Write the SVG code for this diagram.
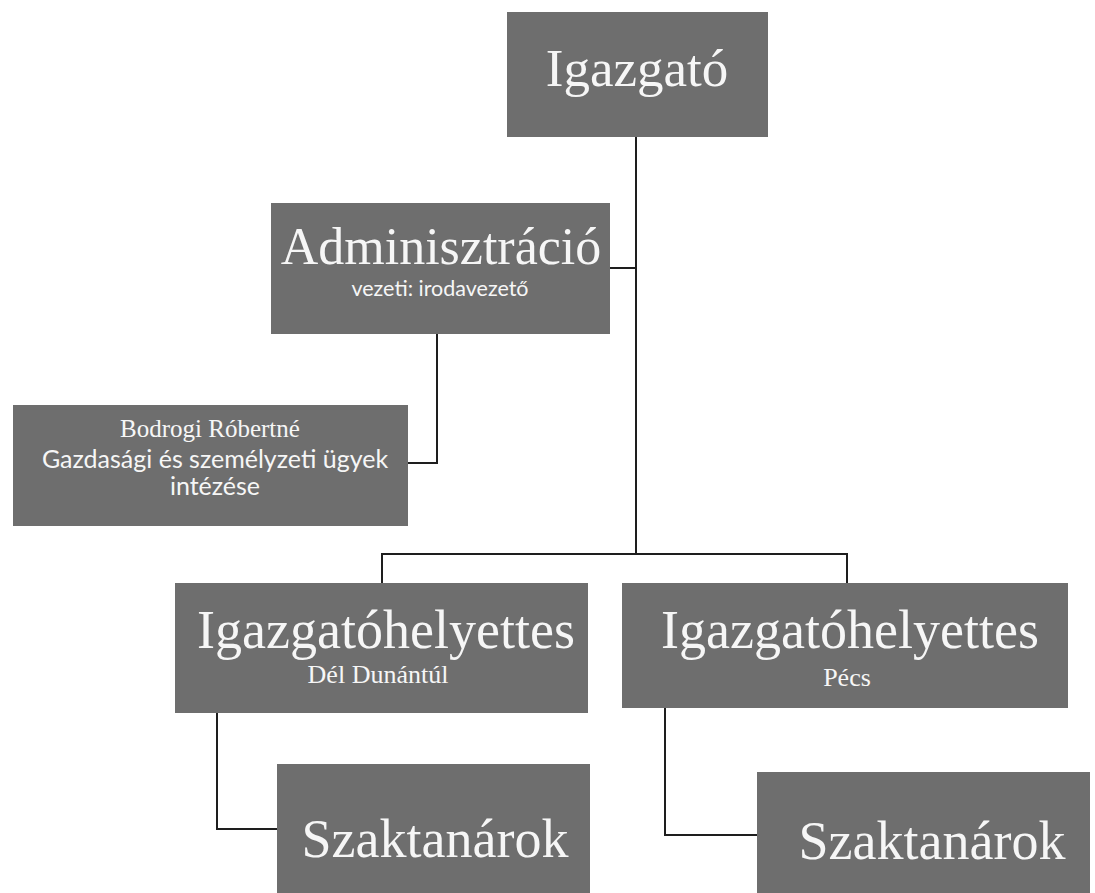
<svg xmlns="http://www.w3.org/2000/svg" width="1095" height="893" viewBox="0 0 1095 893">
<style>
.box{fill:#6e6e6e;}
.serif{font-family:"Liberation Serif","Times New Roman",serif;fill:#f6f6f6;text-anchor:middle;}
.sans{font-family:Lato,"Open Sans","Liberation Sans",sans-serif;fill:#f6f6f6;text-anchor:middle;}
.big{font-size:54px;}
.conn{stroke:#1e1e1e;stroke-width:2;fill:none;}
</style>
<rect width="1095" height="893" fill="#ffffff"/>
<g id="connectors">
<path class="conn" d="M636,137 V554"/>
<path class="conn" d="M610,268 H636"/>
<path class="conn" d="M382,583 V554 H847 V583"/>
<path class="conn" d="M437,334 V463 H408"/>
<path class="conn" d="M217,713 V829 H277"/>
<path class="conn" d="M665,708 V835 H757"/>
</g>
<g id="igazgato">
<rect class="box" x="507" y="12" width="261" height="125"/>
<text class="serif" x="637" y="86" font-size="53">Igazgató</text>
</g>
<g id="adminisztracio">
<rect class="box" x="271" y="203" width="339" height="131"/>
<text class="serif" x="441" y="264" font-size="52">Adminisztráció</text>
<text class="sans" x="440" y="296" font-size="21.5">vezeti: irodavezető</text>
</g>
<g id="bodrogi">
<rect class="box" x="13" y="405" width="395" height="121"/>
<text class="serif" x="210" y="437" font-size="25">Bodrogi Róbertné</text>
<text class="sans" x="215" y="468" font-size="25">Gazdasági és személyzeti ügyek</text>
<text class="sans" x="215" y="495" font-size="25">intézése</text>
</g>
<g id="helyettes-del">
<rect class="box" x="175" y="583" width="413" height="130"/>
<text class="serif big" x="386" y="648">Igazgatóhelyettes</text>
<text class="serif" x="378" y="683" font-size="26">Dél Dunántúl</text>
</g>
<g id="helyettes-pecs">
<rect class="box" x="622" y="583" width="446" height="125"/>
<text class="serif big" x="850" y="648">Igazgatóhelyettes</text>
<text class="serif" x="847" y="686" font-size="26">Pécs</text>
</g>
<g id="szaktanarok-1">
<rect class="box" x="277" y="764" width="313" height="140"/>
<text class="serif big" x="435" y="857">Szaktanárok</text>
</g>
<g id="szaktanarok-2">
<rect class="box" x="757" y="772" width="333" height="140"/>
<text class="serif big" x="932" y="859">Szaktanárok</text>
</g>
</svg>
